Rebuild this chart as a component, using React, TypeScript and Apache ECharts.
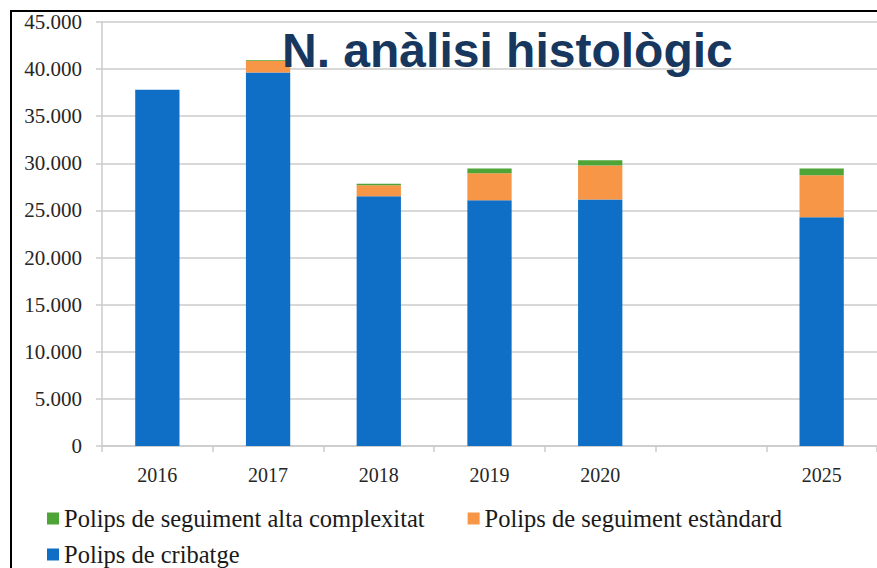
import React, { useEffect, useRef } from "react";
import * as echarts from "echarts";

const categories = ["2016", "2017", "2018", "2019", "2020", "", "2025"];
const cribatge = [37800, 39650, 26500, 26080, 26150, null, 24280];
const estandard = [0, 1240, 1170, 2870, 3610, null, 4460];
const altaComplexitat = [0, 80, 170, 490, 575, null, 700];
const yTicks = { min: 0, max: 45000, interval: 5000 };

const nameCribatge = "Polips de cribatge";
const nameEstandard = "Polips de seguiment estàndard";
const nameAlta = "Polips de seguiment alta complexitat";
const titleText = "N. anàlisi histològic";

const serif = "'Liberation Serif', 'DejaVu Serif', serif";
const sans = "'Liberation Sans', Arial, sans-serif";

export default function App() {
  const ref = useRef<HTMLDivElement>(null);
  useEffect(() => {
    if (!ref.current) return;
    const chart = echarts.init(ref.current, undefined, { renderer: "svg" });
    const gray = "#cbcbcb";
    const legendText = { fontFamily: serif, fontSize: 24.5, lineHeight: 20, color: "#1a1a1a" };
    chart.setOption({
      animation: false,
      backgroundColor: "#ffffff",
      grid: { left: 102, top: 22, width: 778, height: 424, containLabel: false },
      xAxis: {
        type: "category",
        data: categories,
        boundaryGap: true,
        axisLine: { show: true, lineStyle: { color: gray, width: 1.5 } },
        axisTick: { show: true, length: 6, alignWithLabel: false, lineStyle: { color: gray, width: 1.5 } },
        axisLabel: { fontFamily: serif, fontSize: 20, color: "#262626", margin: 19 },
        splitLine: { show: false },
      },
      yAxis: {
        type: "value",
        min: yTicks.min,
        max: yTicks.max,
        interval: yTicks.interval,
        axisLine: { show: true, lineStyle: { color: gray, width: 1.5 } },
        axisTick: { show: true, length: 6, lineStyle: { color: gray, width: 1.5 } },
        splitLine: { show: true, lineStyle: { color: gray, width: 1.5 } },
        axisLabel: {
          fontFamily: serif,
          fontSize: 21,
          color: "#262626",
          margin: 20,
          formatter: (v: number) => (v === 0 ? "0" : v / 1000 + ".000"),
        },
      },
      legend: [
        {
          data: [nameAlta, nameEstandard],
          left: 47,
          top: 506,
          padding: 0,
          itemWidth: 12,
          itemHeight: 12,
          itemGap: 43,
          icon: "rect",
          textStyle: legendText,
        },
        {
          data: [nameCribatge],
          left: 47,
          top: 542,
          padding: 0,
          itemWidth: 12,
          itemHeight: 12,
          icon: "rect",
          textStyle: legendText,
        },
      ],
      graphic: [
        {
          type: "text",
          x: 282,
          y: 26,
          style: {
            text: titleText,
            fill: "#17375E",
            font: `bold 48px ${sans}`,
            textVerticalAlign: "top",
          },
          z: 100,
        },
        { type: "line", shape: { x1: 10, y1: 11, x2: 877, y2: 11 }, style: { stroke: "#000", lineWidth: 2 }, z: 100 },
        { type: "line", shape: { x1: 11, y1: 10, x2: 11, y2: 568 }, style: { stroke: "#000", lineWidth: 2 }, z: 100 },
      ],
      series: [
        {
          name: nameCribatge,
          type: "bar",
          stack: "total",
          barWidth: "40%",
          data: cribatge,
          itemStyle: { color: "#0F6FC6" },
        },
        {
          name: nameEstandard,
          type: "bar",
          stack: "total",
          barWidth: "40%",
          data: estandard,
          itemStyle: { color: "#F79646" },
        },
        {
          name: nameAlta,
          type: "bar",
          stack: "total",
          barWidth: "40%",
          data: altaComplexitat,
          itemStyle: { color: "#4EA437" },
        },
      ],
    });
    return () => chart.dispose();
  }, []);
  return (
    <div
      ref={ref}
      style={{ position: "fixed", left: 0, top: 0, width: 877, height: 568 }}
    />
  );
}
